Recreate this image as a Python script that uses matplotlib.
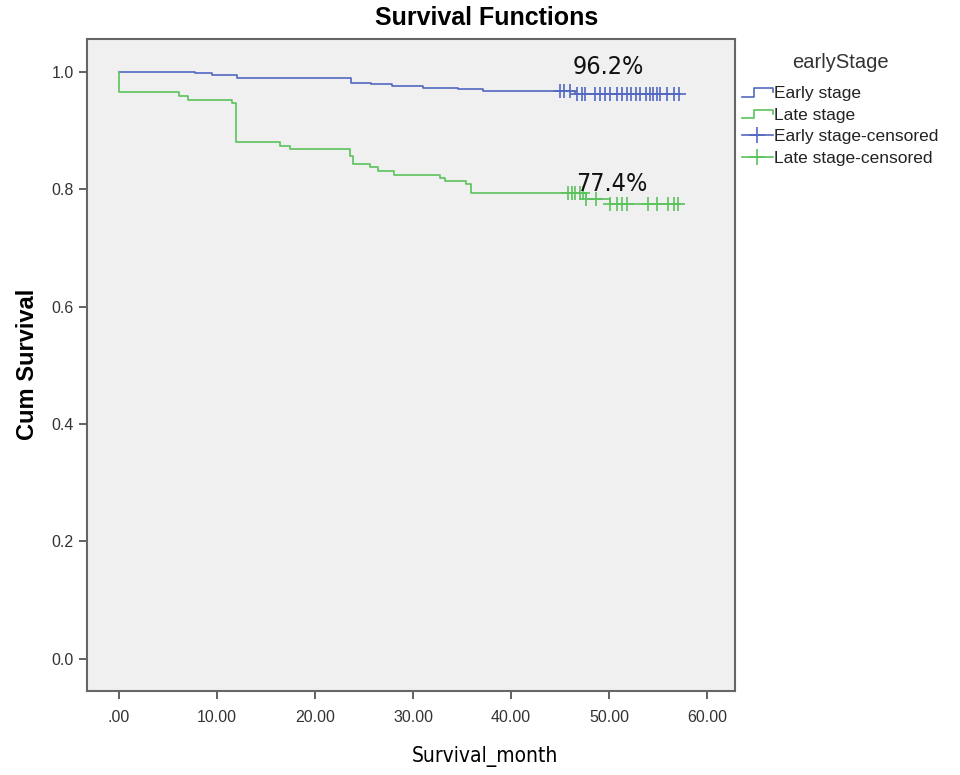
import numpy as np
import matplotlib
matplotlib.use("Agg")
import matplotlib.pyplot as plt
from matplotlib.lines import Line2D
from matplotlib.legend_handler import HandlerBase
from matplotlib import font_manager

plt.rcParams['font.family'] = ['Liberation Sans', 'DejaVu Sans']

# Kaplan-Meier step data
early_times = [0, 7.8, 9.5, 12.0, 23.7, 25.7, 27.9, 31.0, 34.6, 37.1, 46.5]
early_surv = [1.0, 0.997, 0.994, 0.989, 0.981, 0.978, 0.975, 0.972, 0.970, 0.967, 0.962]
early_end = 57.1
early_censored = [45.0, 45.4, 46.0, 46.7, 47.2, 47.6, 48.6, 49.1, 49.6, 50.1, 50.8,
                  51.3, 51.8, 52.3, 52.8, 53.2, 53.8, 54.2, 54.5, 54.9, 55.2,
                  55.9, 56.6, 57.1]

late_times = [0, 0, 6.1, 7.0, 11.5, 11.9, 16.4, 17.4, 23.6, 23.9, 25.6, 26.4,
              28.1, 32.8, 33.3, 35.4, 35.9, 47.7, 50.1]
late_surv = [1.0, 0.965, 0.959, 0.952, 0.947, 0.880, 0.873, 0.868, 0.856, 0.843,
             0.838, 0.831, 0.824, 0.819, 0.813, 0.808, 0.793, 0.783, 0.774]
late_end = 57.0
late_censored = [45.8, 46.2, 46.5, 47.0, 47.4, 47.7, 48.7, 50.1, 50.8, 51.3, 51.8,
                 54.0, 54.9, 56.0, 56.6, 57.0]

labels = ['Early stage', 'Late stage', 'Early stage-censored', 'Late stage-censored']
final_labels = ['96.2%', '77.4%']

blue = '#5368c0'
green = '#5cc35c'

installed = {f.name for f in font_manager.fontManager.ttflist}
if 'Liberation Sans Narrow' in installed:
    narrow = dict(family='Liberation Sans Narrow')
    narrow_big = 23
    narrow_small = 17
else:
    narrow = dict(family='DejaVu Sans', fontstretch='condensed')
    narrow_big = 18
    narrow_small = 15


def surv_at(times, surv, t):
    idx = np.searchsorted(times, t, side='right') - 1
    return np.asarray(surv)[idx]


class StepHandler(HandlerBase):
    def create_artists(self, legend, orig_handle, xdescent, ydescent,
                       width, height, fontsize, trans):
        x = np.array([0, 0.4, 0.4, 1.0, 1.0]) * width - xdescent
        y = np.array([0.15, 0.15, 0.85, 0.85, 0.5]) * height - ydescent
        line = Line2D(x, y, color=orig_handle.get_color(), lw=1.2, transform=trans)
        return [line]


fig = plt.figure(figsize=(9.6, 7.75), dpi=100)
ax = fig.add_axes([0.0906, 0.1084, 0.675, 0.8416])
ax.set_facecolor('#f0f0f0')

h1, = ax.step(early_times + [early_end], early_surv + [early_surv[-1]],
              where='post', color=blue, lw=1.2)
h2, = ax.step(late_times + [late_end], late_surv + [late_surv[-1]],
              where='post', color=green, lw=1.2)
ax.plot(early_censored, surv_at(early_times, early_surv, early_censored),
        ls='none', marker='+', ms=10, mew=1.2, color=blue)
ax.plot(late_censored, surv_at(late_times, late_surv, late_censored),
        ls='none', marker='+', ms=10, mew=1.2, color=green)

ax.text(49.9, 1.008, final_labels[0], fontsize=narrow_big, ha='center', va='center',
        color='#111111', **narrow)
ax.text(50.3, 0.809, final_labels[1], fontsize=narrow_big, ha='center', va='center',
        color='#111111', **narrow)

ax.set_xlim(-3.27, 62.86)
ax.set_ylim(-0.0545, 1.0558)
ax.set_xticks(np.arange(0, 61, 10))
ax.set_xticklabels(['.00', '10.00', '20.00', '30.00', '40.00', '50.00', '60.00'])
ax.set_yticks(np.arange(0, 1.01, 0.2))
ax.set_yticklabels(['0.0', '0.2', '0.4', '0.6', '0.8', '1.0'])
ax.tick_params(direction='out', length=6, width=1.3, color='#555555',
               labelsize=11.5, labelcolor='#333333')
ax.tick_params(axis='x', pad=8)
for s in ax.spines.values():
    s.set_color('#666666')
    s.set_linewidth(1.5)

ax.set_ylabel('Cum Survival', fontsize=17, fontweight='bold', labelpad=9)
fig.text(0.505, 0.01, 'Survival_month', fontsize=narrow_small, ha='center', va='bottom',
         **narrow)
fig.text(0.507, 0.977, 'Survival Functions', fontsize=18, fontweight='bold',
         ha='center', va='center')

p3 = Line2D([], [], color=blue, lw=1.2, marker='+', ms=12, mew=1.2)
p4 = Line2D([], [], color=green, lw=1.2, marker='+', ms=12, mew=1.2)
leg = fig.legend([h1, h2, p3, p4], labels, loc='upper left',
                 bbox_to_anchor=(0.766, 0.94), frameon=False, title='earlyStage',
                 fontsize=12.5, title_fontsize=14.5, handlelength=1.75,
                 handletextpad=0.05, labelspacing=0.36, borderaxespad=0,
                 handler_map={h1: StepHandler(), h2: StepHandler()})
leg.get_title().set_color('#333333')
leg._legend_box.sep = 10
for t in leg.get_texts():
    t.set_color('#222222')

fig.savefig('out.png', dpi=100)
